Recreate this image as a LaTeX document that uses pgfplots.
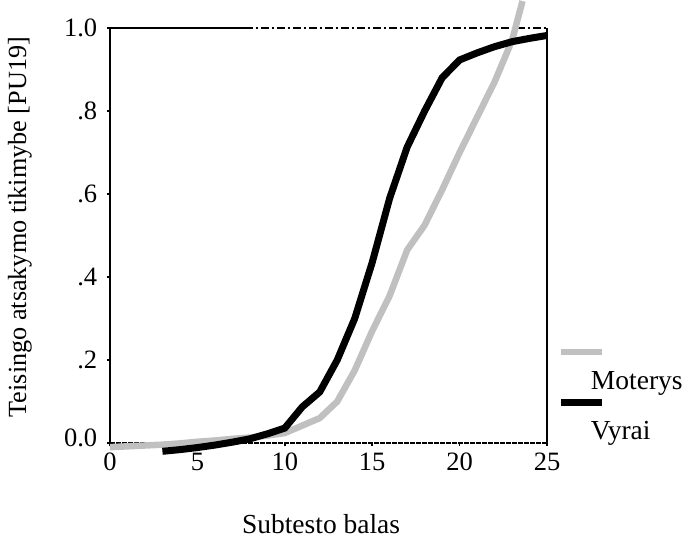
\documentclass[border=0pt]{standalone}
\usepackage{fontspec}
\setmainfont{Liberation Serif}
\usepackage{pgfplots}
\pgfplotsset{compat=1.18}
\usetikzlibrary{calc}
\definecolor{lgray}{RGB}{192,192,192}
\pgfplotstableread{
x y
0 -0.010
1 -0.008
2 -0.006
3 -0.004
4 -0.001
5 0.003
6 0.006
7 0.010
8 0.013
9 0.018
10 0.024
11 0.042
12 0.060
13 0.100
14 0.175
15 0.270
16 0.355
17 0.465
18 0.525
19 0.610
20 0.700
21 0.785
22 0.870
23 0.970
23.6 1.065
}\moterys
\pgfplotstableread{
x y
3 -0.020
4 -0.016
5 -0.011
6 -0.005
7 0.002
8 0.010
9 0.022
10 0.036
11 0.087
12 0.123
13 0.200
14 0.300
15 0.435
16 0.590
17 0.713
18 0.800
19 0.880
20 0.923
21 0.940
22 0.955
23 0.967
24 0.975
25 0.982
}\vyrai
\begin{document}
\fontsize{26bp}{31bp}\selectfont
\begin{tikzpicture}
\begin{axis}[
  scale only axis, width=437bp, height=415bp,
  xmin=0, xmax=25, ymin=0, ymax=1,
  clip=false,
  axis line style={draw=none},
  xtick={0,5,10,15,20,25},
  ytick={0,0.2,0.4,0.6,0.8,1.0},
  yticklabels={\raisebox{11bp}{0.0}, .2, .4, .6, .8, 1.0},
  tick pos=left, tick align=outside,
  major tick length=3bp,
  tick style={black, line width=1.5bp},
  /pgf/number format/assume math mode=true,
  ticklabel style={font=\fontsize{26.5bp}{31bp}\selectfont},
  xticklabel style={yshift=2bp},
  yticklabel style={xshift=-1bp},
  xlabel={Subtesto balas},
  ylabel={Teisingo atsakymo tikimybe [PU19]},
  xlabel style={font=\fontsize{27.5bp}{32bp}\selectfont, at={(axis description cs:0.483,-0.195)}, anchor=center},
  ylabel style={font=\fontsize{26.2bp}{31bp}\selectfont, at={(axis description cs:-0.206,0.52)}, anchor=center},
  legend style={draw=none, fill=none, inner sep=0pt, outer sep=0pt,
    at={(axis description cs:1.032,0.178)}, anchor=north west,
    row sep=24bp, column sep=0pt,
    nodes={inner sep=0pt, outer sep=0pt, text height=20bp, text depth=6bp,
      font=\fontsize{27.5bp}{32bp}\selectfont}},
  legend cell align=left,
  legend image code/.code={\draw[#1,overlay] (0bp,30bp) -- (41bp,30bp); \path[draw=none,fill=none] (0bp,0bp) rectangle (30bp,1bp);},
]
\draw[line width=2bp] (rel axis cs:0,0) -- (rel axis cs:0,1);
\draw[line width=2bp] (rel axis cs:1,0) -- (rel axis cs:1,1);
\draw[line width=1.2bp] (rel axis cs:0,1) -- (axis cs:7.7,1);
\draw[line width=1.2bp, dash pattern=on 8bp off 3bp on 2bp off 3bp] (axis cs:7.7,1) -- (rel axis cs:1,1);
\draw[line width=1.2bp, dash pattern=on 5bp off 1bp] (rel axis cs:0,0) -- (rel axis cs:1,0);
\addplot[lgray, line width=6.5bp] table[x=x,y=y] {\moterys};
\addlegendentry{Moterys}
\addplot[black, line width=7bp] table[x=x,y=y] {\vyrai};
\addlegendentry{Vyrai}
\coordinate (sw) at (rel axis cs:0,0);
\coordinate (ne) at (rel axis cs:1,1);
\end{axis}
\pgfresetboundingbox
\path ($(sw)+(-110bp,-96bp)$) rectangle ($(ne)+(140bp,28bp)$);
\end{tikzpicture}
\end{document}
